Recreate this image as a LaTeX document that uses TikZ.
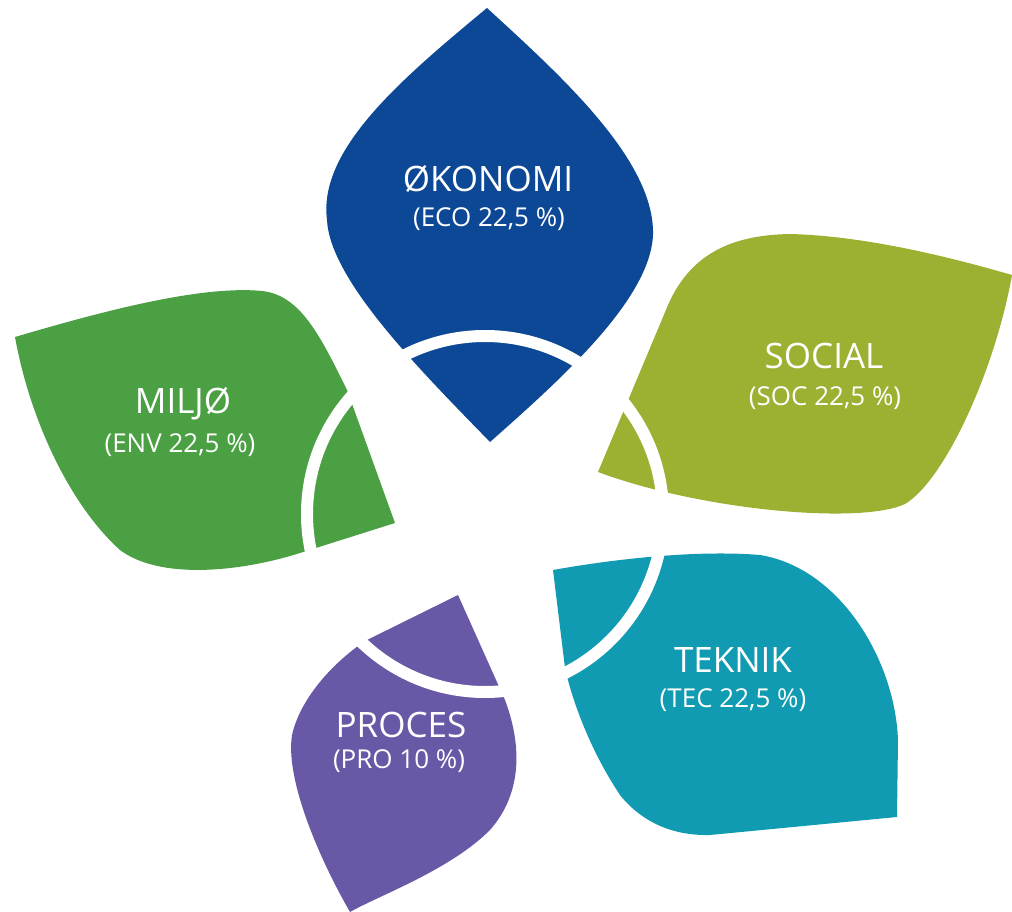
\documentclass[tikz,border=0pt]{standalone}
\usepackage{fontspec}
\setmainfont{Open Sans}
\definecolor{ecoC}{RGB}{12,72,150}
\definecolor{socC}{RGB}{156,176,50}
\definecolor{envC}{RGB}{74,160,66}
\definecolor{tecC}{RGB}{16,155,178}
\definecolor{proC}{RGB}{104,88,166}
\tikzset{
  petal/.style={draw=none},
  ttl/.style={text=white, anchor=base, inner sep=0pt, font=\fontsize{35}{40}\selectfont},
  sub/.style={text=white, anchor=base, inner sep=0pt, font=\fontsize{26}{30}\selectfont},
  cut/.style={draw=white, line width=12}
}
\begin{document}
\begin{tikzpicture}[x=1pt,y=-1pt]
\useasboundingbox (0,0) rectangle (1012,912);
% ECO
\fill[petal, ecoC] (487,8) .. controls (560,75) and (655,160) .. (653,235)
  .. controls (650,300) and (560,380) .. (490,442)
  .. controls (420,370) and (330,280) .. (327,220)
  .. controls (318,150) and (400,80) .. (487,8) -- cycle;
% SOCIAL
\fill[petal, socC] (598,472) -- (668,305) .. controls (690,255) and (730,235) .. (790,234)
  .. controls (870,236) and (960,260) .. (1012,275)
  .. controls (995,370) and (945,480) .. (905,504)
  .. controls (860,525) and (700,510) .. (598,472) -- cycle;
% MILJO
\fill[petal, envC] (15,337) .. controls (100,312) and (200,285) .. (262,291)
  .. controls (300,295) and (320,335) .. (347,390) -- (395,523) -- (300,553)
  .. controls (240,572) and (160,580) .. (120,550)
  .. controls (70,505) and (30,420) .. (15,337) -- cycle;
% TEKNIK
\fill[petal, tecC] (553,570) .. controls (620,558) and (700,550) .. (760,555)
  .. controls (840,568) and (895,660) .. (898,740) -- (897,817) -- (710,835)
  .. controls (670,836) and (640,820) .. (620,795)
  .. controls (590,750) and (572,700) .. (565,668) -- cycle;
% PROCES
\fill[petal, proC] (458,595) -- (505,700) .. controls (520,740) and (525,790) .. (490,830)
  .. controls (450,870) and (380,895) .. (350,912)
  .. controls (320,860) and (285,780) .. (292,735)
  .. controls (300,700) and (330,665) .. (365,641) -- cycle;
% white ring
\draw[cut] (485,514) circle[radius=178];
% labels
\node[ttl] (ecoT) at (488,192) {ØKONOMI};
\node[sub] (ecoS) at (489,226) {(ECO 22,5 \%)};
\node[ttl] (socT) at (824,368) {SOCIAL};
\node[sub] (socS) at (825,405) {(SOC 22,5 \%)};
\node[ttl] (envT) at (183,413) {MILJØ};
\node[sub] (envS) at (180,452) {(ENV 22,5 \%)};
\node[ttl] (tecT) at (733,672) {TEKNIK};
\node[sub] (tecS) at (733,707) {(TEC 22,5 \%)};
\node[ttl] (proT) at (401,737) {PROCES};
\node[sub] (proS) at (399,768) {(PRO 10 \%)};
\end{tikzpicture}
\end{document}
